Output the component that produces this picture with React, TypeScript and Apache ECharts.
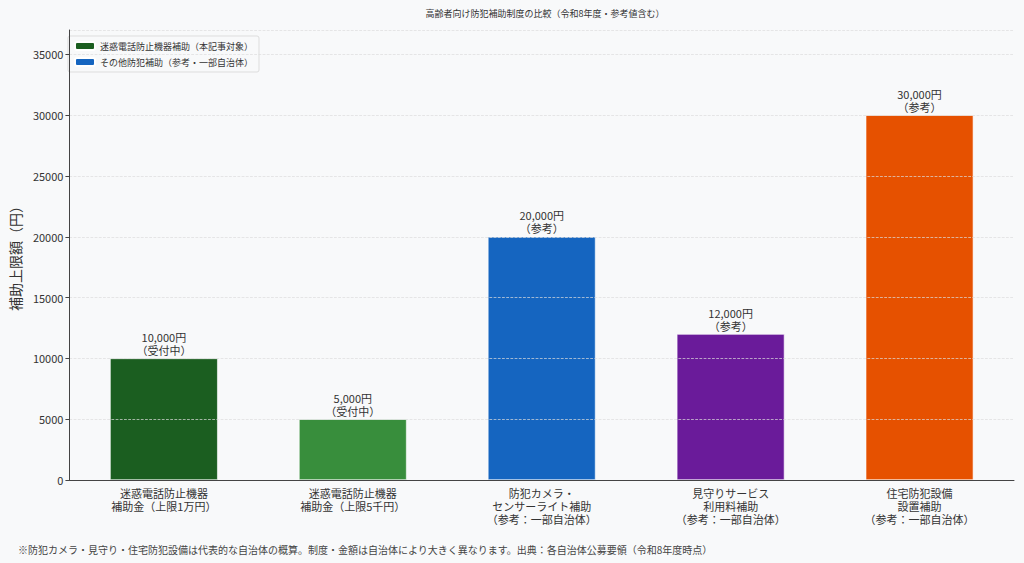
import { useEffect, useRef } from 'react';
import * as echarts from 'echarts';

const categories = [
  '迷惑電話防止機器\n補助金（上限1万円）',
  '迷惑電話防止機器\n補助金（上限5千円）',
  '防犯カメラ・\nセンサーライト補助\n（参考：一部自治体）',
  '見守りサービス\n利用料補助\n（参考：一部自治体）',
  '住宅防犯設備\n設置補助\n（参考：一部自治体）',
];
const amounts = [10000, 5000, 20000, 12000, 30000];
const notes = ['（受付中）', '（受付中）', '（参考）', '（参考）', '（参考）'];
const barColors = ['#1b5e20', '#388e3c', '#1565c0', '#6a1b9a', '#e65100'];
// true = 本記事対象, false = 参考
const isTarget = [true, true, false, false, false];

const FONT = '"Noto Sans CJK JP", "DejaVu Sans", sans-serif';
const TEXT = '#333333';

export default function App() {
  const ref = useRef<HTMLDivElement>(null);

  useEffect(() => {
    document.body.style.margin = '0';
    if (!ref.current) return;
    const chart = echarts.init(ref.current, null, { renderer: 'svg' });

    const makeData = (target: boolean) =>
      amounts.map((v, i) =>
        isTarget[i] === target
          ? { value: v, itemStyle: { color: barColors[i] } }
          : '-'
      );

    const label = {
      show: true,
      position: 'top' as const,
      distance: 2,
      color: TEXT,
      fontSize: 11,
      fontFamily: FONT,
      lineHeight: 13,
      formatter: (p: any) =>
        `${Number(p.value).toLocaleString('en-US')}円\n${notes[p.dataIndex]}`,
    };

    chart.setOption({
      animation: false,
      backgroundColor: '#f8f9fa',
      textStyle: { fontFamily: FONT },
      title: {
        text: '高齢者向け防犯補助制度の比較（令和8年度・参考値含む）',
        left: 540,
        top: 4,
        textAlign: 'center',
        textStyle: { fontSize: 9, fontWeight: 'normal', color: TEXT, fontFamily: FONT },
      },
      legend: {
        left: 68,
        top: 36,
        orient: 'vertical',
        itemWidth: 20,
        itemHeight: 8,
        itemGap: 6,
        padding: [5, 6],
        backgroundColor: '#f8f9fa',
        borderColor: '#dddddd',
        borderWidth: 1,
        borderRadius: 2,
        textStyle: { fontSize: 9, color: TEXT, fontFamily: FONT },
        data: [
          { name: '迷惑電話防止機器補助（本記事対象）', itemStyle: { color: barColors[0] } },
          { name: 'その他防犯補助（参考・一部自治体）', itemStyle: { color: barColors[2] } },
        ],
      },
      grid: { left: 65, right: 10, top: 30, bottom: 83 },
      xAxis: {
        type: 'category',
        data: categories,
        z: 6,
        axisLine: { lineStyle: { color: '#444444' } },
        axisTick: { alignWithLabel: true, length: 4, lineStyle: { color: '#444444' } },
        axisLabel: {
          interval: 0,
          color: TEXT,
          fontSize: 11,
          lineHeight: 13,
          margin: 6,
          fontFamily: FONT,
        },
      },
      yAxis: {
        type: 'value',
        min: 0,
        max: 37000,
        interval: 5000,
        name: '補助上限額（円）',
        nameLocation: 'middle',
        nameGap: 44,
        nameTextStyle: { fontSize: 14, color: TEXT, fontFamily: FONT },
        axisLine: { show: true, lineStyle: { color: '#444444' } },
        axisTick: { show: true, length: 4, lineStyle: { color: '#444444' } },
        axisLabel: {
          color: TEXT,
          fontSize: 11,
          margin: 6,
          fontFamily: FONT,
          showMaxLabel: false,
          formatter: (v: number) => String(v),
        },
        splitLine: { lineStyle: { color: '#dcdcdc', type: 'dashed', width: 0.7 } },
        z: 5,
      },
      series: [
        {
          name: '迷惑電話防止機器補助（本記事対象）',
          type: 'bar',
          stack: 'all',
          barWidth: '57%',
          itemStyle: { color: barColors[0], borderColor: '#ffffff', borderWidth: 0.6 },
          label,
          data: makeData(true),
        },
        {
          name: 'その他防犯補助（参考・一部自治体）',
          type: 'bar',
          stack: 'all',
          barWidth: '57%',
          itemStyle: { color: barColors[2], borderColor: '#ffffff', borderWidth: 0.6 },
          label,
          data: makeData(false),
        },
      ],
      graphic: [
        {
          type: 'text',
          left: 18,
          top: 544,
          style: {
            text: '※防犯カメラ・見守り・住宅防犯設備は代表的な自治体の概算。制度・金額は自治体により大きく異なります。出典：各自治体公募要領（令和8年度時点）',
            fontSize: 10,
            fill: '#444444',
            fontFamily: FONT,
          },
        },
      ],
    });

    return () => chart.dispose();
  }, []);

  return <div ref={ref} style={{ width: 1024, height: 563 }} />;
}
